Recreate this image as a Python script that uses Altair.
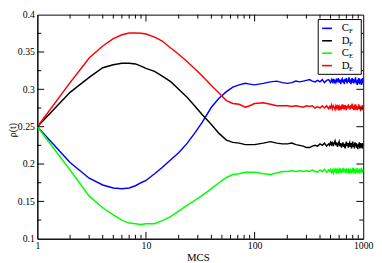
import altair as alt
import pandas as pd

# ---- data ----
t_head = [1, 2, 3, 4, 5, 6, 7, 8, 9, 10, 12, 14, 17, 20, 24, 28, 33, 40, 47, 55, 63, 72, 82, 90]
t_tail = [100, 120, 140, 160, 180, 200, 220, 240, 260, 280, 300, 320, 340, 360, 380, 400,
          420, 440, 460, 480,
          490, 500, 510, 520, 530, 540, 550, 560, 570, 580, 590, 600, 610,
          620, 630, 640, 650, 660, 670, 680, 690, 700, 710, 720, 730, 740,
          750, 760, 770, 780, 790, 800, 810, 820, 830, 840, 850, 860, 870,
          880, 890, 900, 910, 920, 930, 940, 950, 960, 970, 980, 990, 1000]

cf_head = [0.25, 0.202, 0.181, 0.172, 0.168, 0.167, 0.168, 0.171, 0.175, 0.178, 0.187, 0.195,
           0.206, 0.215, 0.228, 0.241, 0.256, 0.276, 0.288, 0.297, 0.303, 0.306, 0.308, 0.307]
cf_tail = [0.306, 0.308, 0.310, 0.311, 0.309, 0.308, 0.309, 0.311, 0.310, 0.311, 0.312, 0.313,
           0.311, 0.310, 0.312, 0.310, 0.313, 0.309, 0.312, 0.313,
           0.311, 0.309, 0.313, 0.310, 0.314, 0.308, 0.312, 0.309, 0.313, 0.311, 0.315, 0.309, 0.313,
           0.307, 0.312, 0.314, 0.309, 0.313, 0.307, 0.314, 0.310, 0.315, 0.308, 0.313, 0.310, 0.316,
           0.309, 0.313, 0.307, 0.312, 0.315, 0.309, 0.314, 0.308, 0.313, 0.310, 0.316, 0.308, 0.312,
           0.306, 0.313, 0.309, 0.315, 0.307, 0.314, 0.308, 0.312, 0.306, 0.314, 0.309, 0.315, 0.307]

df_head = [0.25, 0.296, 0.316, 0.329, 0.333, 0.335, 0.335, 0.334, 0.331, 0.328, 0.324, 0.318,
           0.310, 0.300, 0.289, 0.278, 0.266, 0.253, 0.241, 0.232, 0.229, 0.228, 0.226, 0.226]
df_tail = [0.226, 0.228, 0.230, 0.228, 0.227, 0.227, 0.228, 0.226, 0.225, 0.224, 0.222, 0.222,
           0.224, 0.225, 0.224, 0.227, 0.225, 0.228, 0.224, 0.227,
           0.225, 0.229, 0.226, 0.230, 0.224, 0.228, 0.231, 0.225, 0.229, 0.223, 0.227, 0.230, 0.224,
           0.228, 0.222, 0.226, 0.229, 0.223, 0.227, 0.221, 0.226, 0.230, 0.224, 0.228, 0.222, 0.227,
           0.229, 0.223, 0.228, 0.221, 0.226, 0.230, 0.223, 0.227, 0.221, 0.229, 0.224, 0.228, 0.222,
           0.226, 0.220, 0.227, 0.223, 0.229, 0.221, 0.226, 0.228, 0.222, 0.227, 0.221, 0.228, 0.225]

ce_head = [0.25, 0.192, 0.157, 0.1415, 0.132, 0.125, 0.121, 0.120, 0.119, 0.120, 0.120, 0.124,
           0.130, 0.137, 0.145, 0.151, 0.158, 0.167, 0.175, 0.182, 0.186, 0.187, 0.189, 0.189]
ce_tail = [0.189, 0.187, 0.186, 0.188, 0.190, 0.190, 0.191, 0.190, 0.191, 0.190, 0.191, 0.190,
           0.192, 0.190, 0.189, 0.192, 0.190, 0.193, 0.189, 0.192,
           0.190, 0.193, 0.189, 0.192, 0.188, 0.193, 0.190, 0.194, 0.189, 0.192, 0.188, 0.193, 0.190,
           0.194, 0.188, 0.192, 0.189, 0.195, 0.190, 0.193, 0.188, 0.192, 0.189, 0.194, 0.187, 0.192,
           0.190, 0.194, 0.188, 0.193, 0.189, 0.195, 0.188, 0.192, 0.190, 0.194, 0.187, 0.193, 0.189,
           0.195, 0.188, 0.192, 0.189, 0.194, 0.187, 0.193, 0.190, 0.195, 0.188, 0.192, 0.189, 0.194]

de_head = [0.25, 0.309, 0.342, 0.358, 0.368, 0.373, 0.3755, 0.3755, 0.375, 0.374, 0.370, 0.365,
           0.355, 0.347, 0.337, 0.328, 0.318, 0.305, 0.295, 0.285, 0.281, 0.280, 0.276, 0.278]
de_tail = [0.281, 0.282, 0.280, 0.278, 0.278, 0.278, 0.277, 0.278, 0.277, 0.276, 0.278, 0.277,
           0.278, 0.275, 0.277, 0.275, 0.278, 0.275, 0.278, 0.274,
           0.277, 0.275, 0.279, 0.274, 0.278, 0.276, 0.273, 0.278, 0.275, 0.279, 0.274, 0.277, 0.272,
           0.278, 0.275, 0.280, 0.274, 0.277, 0.273, 0.279, 0.276, 0.272, 0.278, 0.275, 0.280, 0.274,
           0.277, 0.273, 0.279, 0.275, 0.281, 0.274, 0.278, 0.272, 0.277, 0.275, 0.280, 0.273, 0.278,
           0.272, 0.277, 0.274, 0.280, 0.273, 0.278, 0.275, 0.271, 0.277, 0.274, 0.279, 0.272, 0.276]

series_keys = ["CF", "DF", "CE", "DE"]
series_main = ["C", "D", "C", "D"]
series_sub = ["F", "F", "E", "E"]
series_colors = ["#0000ff", "#000000", "#00ff00", "#ff0000"]
series_values = [cf_head + cf_tail, df_head + df_tail, ce_head + ce_tail, de_head + de_tail]

x_major = [1, 10, 100, 1000]
x_minor = [2, 3, 4, 5, 6, 7, 8, 9, 20, 30, 40, 50, 60, 70, 80, 90,
           200, 300, 400, 500, 600, 700, 800, 900]
y_major = [0.1, 0.15, 0.2, 0.25, 0.3, 0.35, 0.4]
y_minor = [0.125, 0.175, 0.225, 0.275, 0.325, 0.375]

# ---- layout ----
PL, PT = 30, 4           # padding left/top (page offset 8 added by the browser)
W, H = 333, 229
FONT = "Liberation Serif"

ts = t_head + t_tail
rows = []
for k, vals in zip(series_keys, series_values):
    for t, v in zip(ts, vals):
        rows.append({"t": t, "rho": v, "s": k})
df = pd.DataFrame(rows)

xs = alt.Scale(type="log", domain=[1, 1000], nice=False)
ys = alt.Scale(domain=[0.1, 0.4], nice=False, zero=False)
y25 = H * (0.4 - 0.25) / 0.3

AX = alt.Axis(values=x_major, format="d", ticks=False, grid=False,
              domainColor="black", labelFont=FONT, labelFontSize=10,
              labelColor="black", labelFlush=False, labelOverlap=False,
              labelBound=False, labelPadding=2,
              titleFont=FONT, titleFontSize=11, titleFontWeight="normal",
              titleColor="black", titleBaseline="alphabetic",
              titleX=164, titleY=22)
AY = alt.Axis(values=y_major, format=".2~f", ticks=False, grid=False,
              domainColor="black", labelFont=FONT, labelFontSize=10,
              labelColor="black", labelFlush=False, labelOverlap=False,
              labelBound=False, labelPadding=3,
              titleFont=FONT, titleFontSize=10, titleFontWeight="normal",
              titleColor="black", titleAngle=270, titleBaseline="top",
              titleAlign="center", titleX=-PL, titleY=y25 + 3)

def X(field):
    return alt.X(field, scale=xs, title="MCS", axis=AX)

def Y(field):
    return alt.Y(field, scale=ys, title="ρ(t)", axis=AY)

lines = alt.Chart(df).mark_line(strokeWidth=1.5, clip=True).encode(
    x=X("t:Q"), y=Y("rho:Q"),
    color=alt.Color("s:N", scale=alt.Scale(domain=series_keys, range=series_colors), legend=None),
    order=alt.Order("t:Q"),
)

def xticks(vals, length):
    d = pd.DataFrame({"t": vals})
    bottom = alt.Chart(d).mark_rule(color="black", strokeWidth=1).encode(
        x=X("t:Q"), y=alt.value(H), y2=alt.value(H - length))
    top = alt.Chart(d).mark_rule(color="black", strokeWidth=1).encode(
        x=X("t:Q"), y=alt.value(0), y2=alt.value(length))
    return [bottom, top]

def yticks(vals, length):
    d = pd.DataFrame({"rho": vals})
    left = alt.Chart(d).mark_rule(color="black", strokeWidth=1).encode(
        y=Y("rho:Q"), x=alt.value(0), x2=alt.value(length))
    right = alt.Chart(d).mark_rule(color="black", strokeWidth=1).encode(
        y=Y("rho:Q"), x=alt.value(W), x2=alt.value(W - length))
    return [left, right]

tick_layers = xticks(x_major[1:-1], 7) + xticks(x_minor, 4) + yticks(y_major[1:-1], 7) + yticks(y_minor, 4)

# ---- legend drawn by hand (subscripts) ----
lx0, lx1, ly0, ly1 = 287, 331, 5, 61
leg = [alt.Chart(pd.DataFrame({"a": [0]})).mark_rect(fill="white", stroke="black", strokeWidth=1).encode(
    x=alt.value(lx0), x2=alt.value(lx1), y=alt.value(ly0), y2=alt.value(ly1))]
for i, (m, s, c) in enumerate(zip(series_main, series_sub, series_colors)):
    yy = 14 + i * 12.7
    leg.append(alt.Chart(pd.DataFrame({"a": [0]})).mark_rule(color=c, strokeWidth=1.6).encode(
        x=alt.value(291), x2=alt.value(301), y=alt.value(yy)))
    leg.append(alt.Chart(pd.DataFrame({"a": [m]})).mark_text(
        font=FONT, fontSize=11, align="left", baseline="middle", color="black").encode(
        x=alt.value(311), y=alt.value(yy), text="a:N"))
    leg.append(alt.Chart(pd.DataFrame({"a": [s]})).mark_text(
        font=FONT, fontSize=7, align="left", baseline="middle", color="black").encode(
        x=alt.value(318.5), y=alt.value(yy + 3), text="a:N"))

chart = alt.layer(lines, *tick_layers, *leg).properties(
    width=W, height=H,
    autosize=alt.AutoSizeParams(type="none"),
    padding={"left": PL, "top": PT, "right": 11, "bottom": 22},
    background="white",
).configure_view(stroke="black", strokeWidth=1)

chart.save("out.html", embed_options={"renderer": "svg", "actions": False})
